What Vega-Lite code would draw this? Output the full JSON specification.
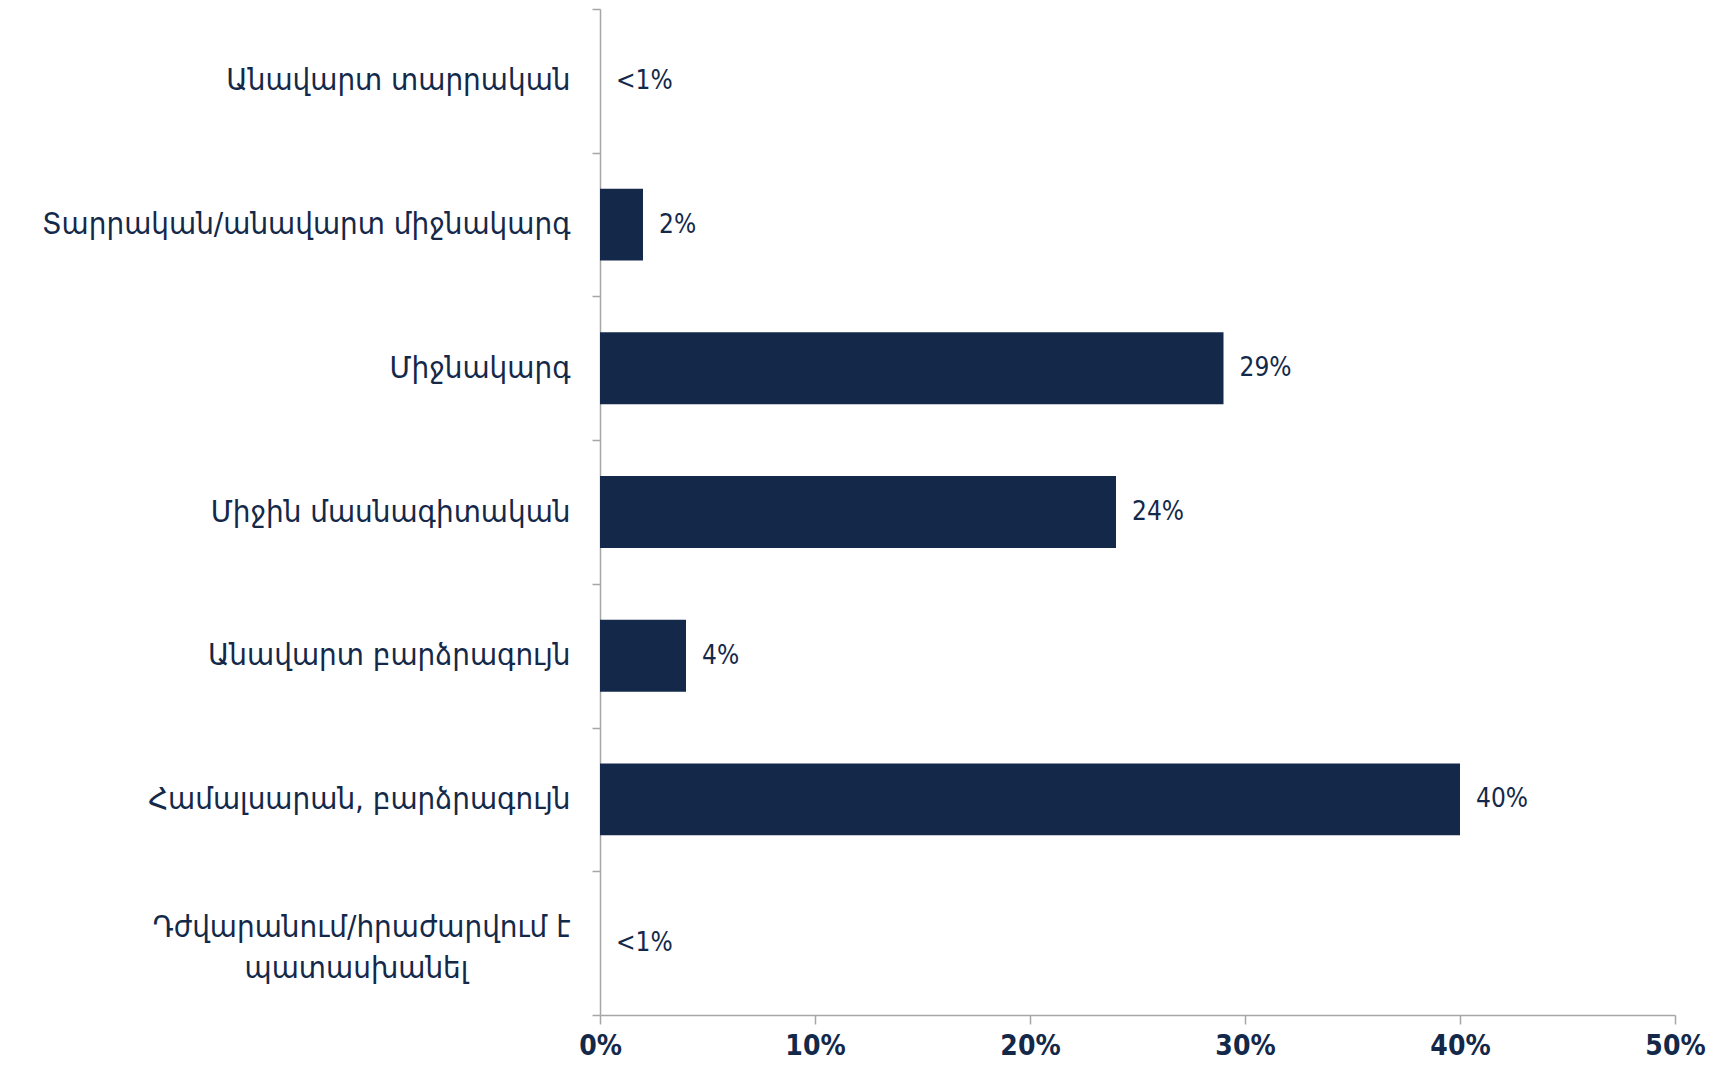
{
  "$schema": "https://vega.github.io/schema/vega-lite/v6.json",
  "width": 1075,
  "height": 1006,
  "autosize": {"type": "none"},
  "padding": {"left": 600, "top": 9, "right": 48, "bottom": 53},
  "background": "white",
  "config": {"view": {"stroke": null}},
  "data": {"values": [
    {"category": "Անավարտ տարրական", "value": 0, "label": "<1%"},
    {"category": "Տարրական/անավարտ միջնակարգ", "value": 2, "label": "2%"},
    {"category": "Միջնակարգ", "value": 29, "label": "29%"},
    {"category": "Միջին մասնագիտական", "value": 24, "label": "24%"},
    {"category": "Անավարտ բարձրագույն", "value": 4, "label": "4%"},
    {"category": "Համալսարան, բարձրագույն", "value": 40, "label": "40%"},
    {"category": "Դժվարանում/հրաժարվում է պատասխանել", "value": 0, "label": "<1%"}
  ]},
  "encoding": {
    "y": {
      "field": "category", "type": "nominal", "sort": null,
      "scale": {"paddingInner": 0, "paddingOuter": 0},
      "axis": {
        "title": null,
        "domainColor": "#a6a6a6", "domainWidth": 1.5,
        "tickColor": "#a6a6a6", "tickWidth": 1.5, "tickSize": 8, "tickBand": "extent",
        "labelFont": "DejaVu Sans Condensed", "labelFontSize": 31, "labelFontWeight": "normal",
        "labelColor": "#14294a", "labelPadding": 22, "labelLimit": 700,
        "labelLineHeight": 41,
        "labelOffset": {"condition": {"test": "datum.value == 'Դժվարանում/հրաժարվում է պատասխանել'", "value": -16}, "value": 0},
        "labelExpr": "datum.value == 'Դժվարանում/հրաժարվում է պատասխանել' ? ['Դժվարանում/հրաժարվում է', 'պատասխանել\u2800\u2800\u2800\u2800\u2800'] : datum.value"
      }
    },
    "x": {
      "field": "value", "type": "quantitative",
      "scale": {"domain": [0, 50]},
      "axis": {
        "title": null, "values": [0, 10, 20, 30, 40, 50], "grid": false,
        "labelExpr": "datum.value + '%'",
        "domainColor": "#a6a6a6", "domainWidth": 1.5,
        "tickColor": "#a6a6a6", "tickWidth": 1.5, "tickSize": 9,
        "labelFont": "DejaVu Sans Condensed", "labelFontSize": 28, "labelFontWeight": "bold",
        "labelColor": "#14294a", "labelPadding": 8, "labelFlush": false
      }
    }
  },
  "layer": [
    {"mark": {"type": "bar", "color": "#14294a", "height": {"band": 0.5}}},
    {"mark": {"type": "text", "align": "left", "baseline": "middle", "dx": 16,
      "font": "DejaVu Sans Condensed", "fontSize": 26, "color": "#14294a"},
     "encoding": {"text": {"field": "label"}}}
  ]
}
